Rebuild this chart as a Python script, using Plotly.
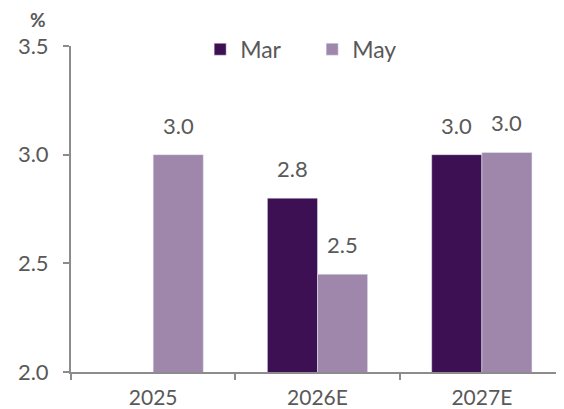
import plotly.graph_objects as go

categories = ["2025", "2026E", "2027E"]
mar_values = [None, 2.8, 3.0]
may_values = [3.0, 2.45, 3.01]
mar_labels = ["", "2.8", "3.0"]
may_labels = ["3.0", "2.5", "3.0"]
y_ticks = [2.0, 2.5, 3.0, 3.5]
y_tick_labels = ["2.0", "2.5", "3.0", "3.5"]

FONT = "Century Gothic, Lato, sans-serif"
GREY = "#595959"
AXIS = "#8c8c8c"
MAR_C = "#3C1053"
MAY_C = "#9E87AA"

fig = go.Figure()
fig.add_trace(go.Bar(name="Mar", x=categories, y=mar_values, marker_color=MAR_C))
fig.add_trace(go.Bar(name="May", x=categories, y=may_values, marker_color=MAY_C))

annotations = []
for series, labels, shift in ((mar_values, mar_labels, -25), (may_values, may_labels, 25)):
    for i, (val, lab) in enumerate(zip(series, labels)):
        if val is None or not lab:
            continue
        annotations.append(dict(x=i, y=val, text=lab, xref="x", yref="y",
                                xshift=shift, yshift=14, yanchor="bottom", showarrow=False,
                                font=dict(size=22, color=GREY, family=FONT)))
annotations.append(dict(text="<b>%</b>", xref="paper", yref="paper", x=-0.047, y=1.0,
                        xanchor="right", yanchor="bottom", yshift=13, showarrow=False,
                        font=dict(size=19, color=GREY, family=FONT)))

# page body has an 8px margin, so the figure is sized to fill the rest of the window
fig.update_layout(
    width=556, height=401,
    margin=dict(l=63, r=0, t=38, b=37, autoexpand=False),
    paper_bgcolor="white", plot_bgcolor="white",
    barmode="group", bargap=0.39, bargroupgap=0,
    font=dict(family=FONT, size=21, color=GREY),
    showlegend=True,
    legend=dict(orientation="h", x=0.262, y=0.99, xanchor="left", yanchor="middle",
                font=dict(size=23, color=GREY, family=FONT), bgcolor="rgba(0,0,0,0)",
                itemwidth=30, entrywidth=67),
    annotations=annotations,
)
fig.update_xaxes(
    type="category", range=[-0.5, 2.5], showline=True, linecolor=AXIS, linewidth=2,
    ticks="outside", tickson="boundaries", ticklen=6, tickwidth=2, tickcolor=AXIS,
    showgrid=False, ticklabelstandoff=6, tickfont=dict(size=21, color=GREY, family=FONT),
)
fig.update_yaxes(
    range=[2.0, 3.5], tickvals=y_ticks, ticktext=y_tick_labels,
    showline=True, linecolor=AXIS, linewidth=2, ticks="outside", ticklen=6,
    tickwidth=2, tickcolor=AXIS, showgrid=False, zeroline=False,
    ticklabelstandoff=10,
    tickfont=dict(size=22, color=GREY, family=FONT),
)

fig.write_html("out.html")
